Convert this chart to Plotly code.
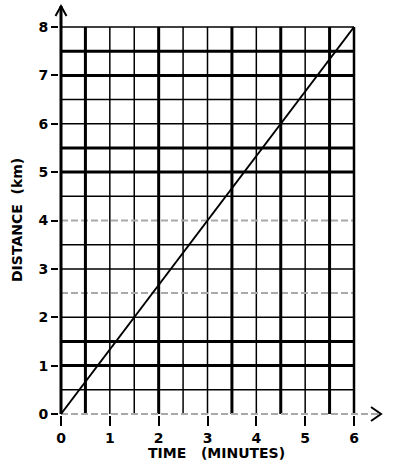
import plotly.graph_objects as go

# ---- data ----
time_min = [0, 1.5, 3, 4.5, 6]
distance_km = [0, 2, 4, 6, 8]
x_ticks = [0, 1, 2, 3, 4, 5, 6]
y_ticks = [0, 1, 2, 3, 4, 5, 6, 7, 8]
x_title = "TIME   (MINUTES)"
y_title = "DISTANCE  (km)"

# ---- style / layout geometry ----
W, H = 398, 461
L, R, T, B = 59, 14, 4, 46          # plot area margins (px)
X0PX, X6PX = 61, 354                # pixel of x=0 and x=6
Y0PX, Y8PX = 414, 27                # pixel of y=0 and y=8
sx = (X6PX - X0PX) / 6.0
sy = (Y0PX - Y8PX) / 8.0
x_range = [-(X0PX - L) / sx, 6 + (W - R - X6PX) / sx]
y_range = [-(H - B - Y0PX) / sy, 8 + (Y8PX - T) / sy]

v_thick = [0.5, 2, 3.5, 4.5, 5.5]
v_thin = [1, 1.5, 2.5, 3, 4, 5]
v_edge = [6]
h_thick = [7.5, 7, 5.5, 5, 1.5, 1]
h_thin = [8, 6.5, 6, 4.5, 3.5, 3, 2, 0.5]
h_dash = [4, 2.5]
THICK, THIN, EDGE = 3, 1.5, 2.5
GREY = "#a9a9a9"

font_ticks = dict(family="DejaVu Sans", size=14, color="black", weight="bold")
font_title = dict(family="DejaVu Sans", size=14, color="black", weight="bold")

def px_x(p): return (p - L) / (W - L - R)
def px_y(p): return (H - B - p) / (H - T - B)

shapes = []
def vline(x, w, color="black", dash="solid"):
    shapes.append(dict(type="line", xref="x", yref="y", x0=x, x1=x, y0=0, y1=8,
                       line=dict(color=color, width=w, dash=dash), layer="below"))
def hline(y, w, color="black", dash="solid", x1=6):
    shapes.append(dict(type="line", xref="x", yref="y", x0=0, x1=x1, y0=y, y1=y,
                       line=dict(color=color, width=w, dash=dash), layer="below"))

for v in v_thin: vline(v, THIN)
for h in h_thin: hline(h, THIN)
for h in h_dash: hline(h, 2, GREY, "7px,3px")
for v in v_thick: vline(v, THICK)
for v in v_edge: vline(v, EDGE)
for h in h_thick: hline(h, THICK)

# x axis (grey dashed) extending to arrow
x_tip = 6 + (381 - X6PX) / sx
hline(0, 2, GREY, "7px,3px", x1=x_tip)
# y axis (thick black) extending to arrow
y_tip = 8 + (Y8PX - 6) / sy
shapes.append(dict(type="line", xref="x", yref="y", x0=0, x1=0, y0=0, y1=y_tip,
                   line=dict(color="black", width=3), layer="above"))
# arrow heads (open chevrons) in paper space so they are not clipped
shapes.append(dict(type="path", xref="paper", yref="paper",
                   path=(f"M{px_x(371)},{px_y(407)} L{px_x(381)},{px_y(414)} "
                         f"L{px_x(371)},{px_y(421)}"),
                   line=dict(color="black", width=2), layer="above"))
shapes.append(dict(type="path", xref="paper", yref="paper",
                   path=(f"M{px_x(55.5)},{px_y(16)} L{px_x(61)},{px_y(6)} "
                         f"L{px_x(66.5)},{px_y(16)}"),
                   line=dict(color="black", width=2), layer="above"))

fig = go.Figure()
fig.add_trace(go.Scatter(x=time_min, y=distance_km, mode="lines",
                         line=dict(color="black", width=2), hoverinfo="skip",
                         showlegend=False))

fig.update_layout(
    width=W, height=H,
    margin=dict(l=L, r=R, t=T, b=B, pad=0),
    paper_bgcolor="white", plot_bgcolor="white",
    shapes=shapes,
    showlegend=False,
    xaxis=dict(range=x_range, tickvals=x_ticks, ticktext=[str(v) for v in x_ticks],
               ticks="outside", ticklen=10, tickwidth=2, tickcolor="black",
               showgrid=False, zeroline=False, showline=False,
               tickfont=font_ticks, fixedrange=True),
    yaxis=dict(range=y_range, tickvals=y_ticks, ticktext=[str(v) for v in y_ticks],
               ticks="outside", ticklen=7, tickwidth=2, tickcolor="black",
               showgrid=False, zeroline=False, showline=False,
               tickfont=font_ticks, fixedrange=True),
    annotations=[
        dict(text=x_title, xref="paper", yref="paper", x=px_x(216.5), y=px_y(452.5),
             xanchor="center", yanchor="middle", showarrow=False, font=font_title,
             borderpad=0),
        dict(text=y_title, xref="paper", yref="paper", x=px_x(17), y=px_y(220),
             xanchor="center", yanchor="middle", showarrow=False, textangle=-90,
             font=font_title, borderpad=0),
    ],
)

fig.write_html("out.html")
